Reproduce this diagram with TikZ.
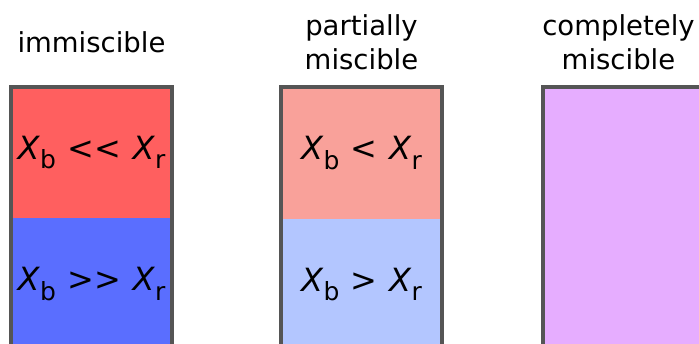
\documentclass[tikz,border=0pt]{standalone}
\usepackage{fontspec}
\setmainfont{DejaVu Sans}
\usetikzlibrary{positioning}
\definecolor{immred}{HTML}{FF5F5F}
\definecolor{immblue}{HTML}{5A6EFF}
\definecolor{partred}{HTML}{F9A19A}
\definecolor{partblue}{HTML}{B3C6FF}
\definecolor{fullpurple}{HTML}{E6ADFF}
\definecolor{wallgray}{HTML}{555555}

\newcommand{\molx}[1]{\textit{X}\raisebox{-0.3em}{\fontsize{25}{25}\selectfont #1}}
\newcommand{\rel}[1]{\hspace{0.36em}#1\hspace{0.36em}}

\begin{document}
\begin{tikzpicture}[x=1pt, y=-1pt,
    phase/.style={rectangle, inner sep=0pt, minimum width=161pt,
      minimum height=131pt, fill=#1, draw=#1, line width=0.6pt,
      font=\fontsize{32}{32}\selectfont},
    wall/.style={draw=wallgray, line width=4pt},
    title/.style={inner sep=0pt, align=center, anchor=south,
      font=\fontsize{27.5}{34}\selectfont}]
  \useasboundingbox (0,0) rectangle (699,344);
  \clip (0,0) rectangle (699,344);

  % immiscible
  \node[phase=immred] (immtop) at (91.5,152.5) {\molx{b}\rel{<{}<}\molx{r}};
  \node[phase=immblue, below=0pt of immtop] (immbot) {\molx{b}\rel{>{}>}\molx{r}};
  \draw[wall] (immtop.north west) rectangle (immbot.south east);
  \node[title, above=34pt of immtop] (immtitle) {immiscible};

  % partially miscible
  \node[phase=partred] (parttop) at (361.5,153) {\molx{b}\rel{<}\molx{r}};
  \node[phase=partblue, below=0pt of parttop] (partbot) {\molx{b}\rel{>}\molx{r}};
  \draw[wall] (parttop.north west) rectangle (partbot.south east);
  \node[title, above=17pt of parttop] (parttitle) {partially\\miscible};

  % completely miscible
  \node[phase=fullpurple, minimum height=262pt] (fullbox) at (623.5,218) {};
  \draw[wall] (fullbox.north west) rectangle (fullbox.south east);
  \node[title, above=17pt of fullbox, xshift=-5pt] (fulltitle) {completely\\miscible};
\end{tikzpicture}
\end{document}
